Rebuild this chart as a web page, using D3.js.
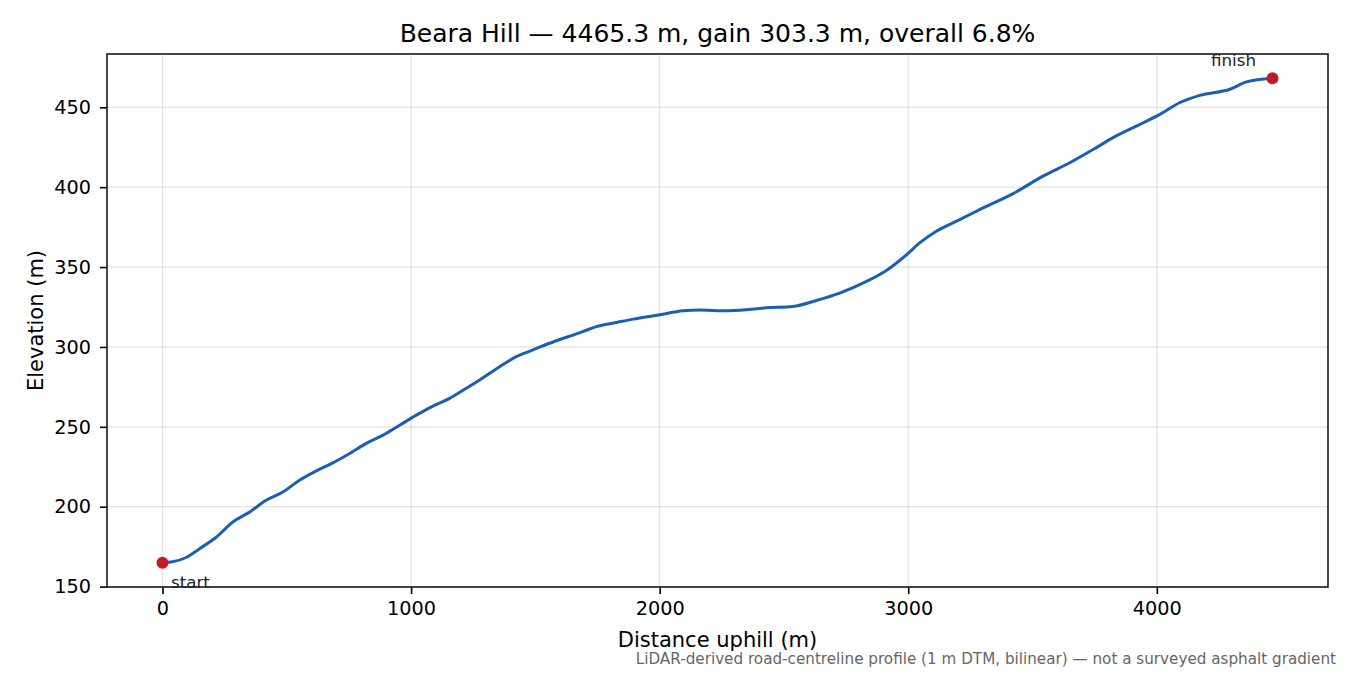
<!DOCTYPE html>
<html>
<head>
<meta charset="utf-8">
<script src="https://cdn.jsdelivr.net/npm/d3@7"></script>
<style>
  body { margin: 0; background: #fff; }
  svg { font-family: "DejaVu Sans", sans-serif; }
</style>
</head>
<body>
<div id="chart"></div>
<script>
// Profile samples (distance m, elevation m)
const distance = [0, 40, 95, 149, 216, 283, 350, 417, 484, 551, 619, 685, 753, 820, 887, 954,
  1021, 1088, 1155, 1222, 1276, 1356, 1423, 1490, 1557, 1691, 1745, 1826, 1893, 2000,
  2094, 2161, 2228, 2322, 2429, 2536, 2631, 2724, 2832, 2912, 2993, 3046, 3113, 3207,
  3301, 3422, 3542, 3650, 3744, 3824, 3932, 4012, 4093, 4173, 4294, 4361, 4465.3];
const elevation = [164.9, 165.5, 168.2, 173.7, 180.9, 190.4, 196.6, 204.0, 209.2, 216.5, 222.4,
  227.4, 233.3, 239.6, 244.8, 251.0, 257.3, 263.0, 267.8, 274.1, 279.3, 287.6, 293.9,
  298.1, 302.3, 309.6, 312.7, 315.3, 317.4, 320.1, 322.6, 323.2, 322.6, 323.0, 324.5,
  325.3, 329.1, 333.7, 341.0, 347.9, 357.7, 365.1, 372.4, 379.7, 387.0, 396.0, 406.9,
  415.3, 423.6, 431.0, 439.3, 445.6, 453.0, 457.5, 461.3, 465.9, 468.2];
const xTicks = [0, 1000, 2000, 3000, 4000];
const yTicks = [150, 200, 250, 300, 350, 400, 450];

const titleText = "Beara Hill — 4465.3 m, gain 303.3 m, overall 6.8%";
const footText = "LiDAR-derived road-centreline profile (1 m DTM, bilinear) — not a surveyed asphalt gradient";

const width = 1350, height = 675;
const margin = { top: 54, right: 22, bottom: 88, left: 107 };
const innerW = width - margin.left - margin.right;
const innerH = height - margin.top - margin.bottom;

const points = distance.map((d, i) => ({ d: d, e: elevation[i] }));

// 5% padding on both axes, like matplotlib
const xMin = d3.min(distance), xMax = d3.max(distance);
const yMin = d3.min(elevation), yMax = d3.max(elevation);
const xPad = (xMax - xMin) * 0.05, yPad = (yMax - yMin) * 0.05;

const x = d3.scaleLinear().domain([xMin - xPad, xMax + xPad]).range([0, innerW]);
const y = d3.scaleLinear().domain([yMin - yPad, yMax + yPad]).range([innerH, 0]);

const svg = d3.select("#chart").append("svg")
  .attr("width", width)
  .attr("height", height);

const g = svg.append("g").attr("transform", `translate(${margin.left},${margin.top})`);

// grid
g.append("g").selectAll("line").data(xTicks).enter().append("line")
  .attr("x1", d => x(d)).attr("x2", d => x(d))
  .attr("y1", 0).attr("y2", innerH)
  .attr("stroke", "#b0b0b0").attr("stroke-opacity", 0.35).attr("stroke-width", 1.2);
g.append("g").selectAll("line").data(yTicks).enter().append("line")
  .attr("x1", 0).attr("x2", innerW)
  .attr("y1", d => y(d)).attr("y2", d => y(d))
  .attr("stroke", "#b0b0b0").attr("stroke-opacity", 0.35).attr("stroke-width", 1.2);

// axes
const xAxis = g.append("g").attr("transform", `translate(0,${innerH})`)
  .call(d3.axisBottom(x).tickValues(xTicks).tickSizeOuter(0).tickSize(7).tickPadding(7).tickFormat(d3.format("d")));
const yAxis = g.append("g")
  .call(d3.axisLeft(y).tickValues(yTicks).tickSizeOuter(0).tickSize(7).tickPadding(9).tickFormat(d3.format("d")));
[xAxis, yAxis].forEach(a => {
  a.attr("font-family", "DejaVu Sans").attr("font-size", null);
  a.select(".domain").remove();
  a.selectAll("text").style("font-size", "19.3px").attr("fill", "#000");
  a.selectAll("line").attr("stroke", "#000").attr("stroke-width", 1.6);
});

// frame
g.append("rect").attr("width", innerW).attr("height", innerH)
  .attr("fill", "none").attr("stroke", "#1a1a1a").attr("stroke-width", 1.6);

// profile line
const line = d3.line().x(p => x(p.d)).y(p => y(p.e)).curve(d3.curveMonotoneX);
g.append("path").datum(points)
  .attr("d", line)
  .attr("fill", "none")
  .attr("stroke", "#1a5fb4")
  .attr("stroke-width", 3)
  .attr("stroke-linejoin", "round");

// start / finish markers
const ends = [points[0], points[points.length - 1]];
g.selectAll("circle.end").data(ends).enter().append("circle")
  .attr("class", "end")
  .attr("cx", p => x(p.d)).attr("cy", p => y(p.e))
  .attr("r", 6).attr("fill", "#c01c28");

g.append("text")
  .attr("x", x(ends[0].d) + 8.5).attr("y", y(ends[0].e) + 25.5)
  .style("font-size", "16.7px").attr("fill", "#222").text("start");
g.append("text")
  .attr("x", x(ends[1].d) - 39).attr("y", y(ends[1].e) - 12.5)
  .attr("text-anchor", "middle")
  .style("font-size", "16.7px").attr("fill", "#222").text("finish");

// title and labels
svg.append("text")
  .attr("x", margin.left + innerW / 2).attr("y", 42)
  .attr("text-anchor", "middle").style("font-size", "25px").text(titleText);
svg.append("text")
  .attr("x", margin.left + innerW / 2).attr("y", 647)
  .attr("text-anchor", "middle").style("font-size", "21px").text("Distance uphill (m)");
svg.append("text")
  .attr("transform", `translate(43,${margin.top + innerH / 2}) rotate(-90)`)
  .attr("text-anchor", "middle").style("font-size", "21px").text("Elevation (m)");
svg.append("text")
  .attr("x", 1336).attr("y", 664)
  .attr("text-anchor", "end").style("font-size", "15.2px").attr("fill", "#666").text(footText);
</script>
</body>
</html>
